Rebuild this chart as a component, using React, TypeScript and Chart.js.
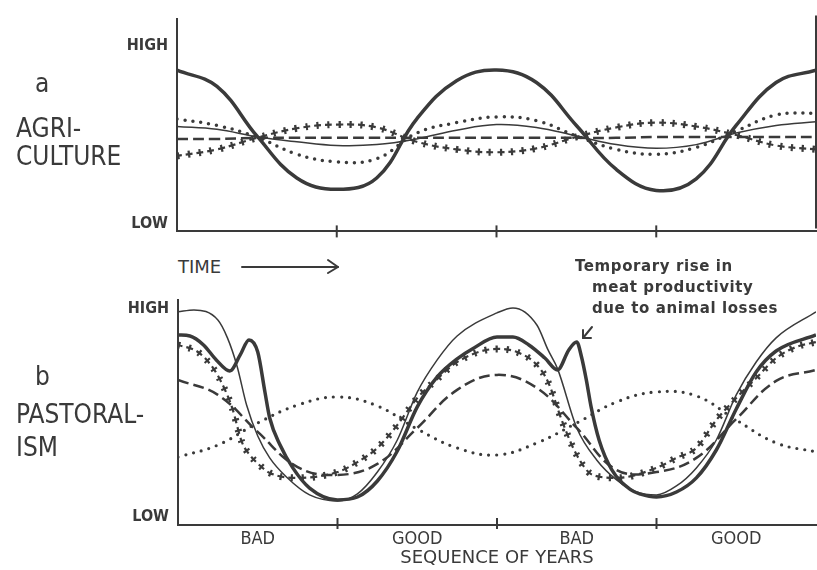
import React, { useEffect, useRef } from 'react';
import { Chart, registerables } from 'chart.js';

Chart.register(...registerables);

// ---------- data ----------
const quarterSteps = [0, 0.25, 0.5, 0.75, 1, 1.25, 1.5, 1.75, 2, 2.25, 2.5, 2.75, 3, 3.25, 3.5, 3.75, 4];

// panel a: agriculture
const agriThick = [8.66, 7.74, 4.95, 2.58, 1.94, 2.58, 5.9, 8.06, 8.66, 7.96, 5.54, 3.06, 1.88, 2.53, 5.54, 7.96, 8.66];
const agriThin = [5.48, 5.32, 4.9, 4.62, 4.41, 4.46, 4.78, 5.27, 5.59, 5.43, 4.95, 4.46, 4.25, 4.46, 5.11, 5.54, 5.75];
const agriDotted = [5.91, 5.54, 4.89, 3.92, 3.49, 3.66, 5.11, 5.7, 6.02, 5.81, 4.95, 4.19, 3.92, 4.3, 5.22, 6.13, 6.24];
const agriDashed = [4.78, 4.78, 4.84, 4.84, 4.84, 4.84, 4.84, 4.84, 4.84, 4.84, 4.84, 4.84, 4.89, 4.89, 4.89, 4.89, 4.89];
const agriPlus = [3.82, 4.19, 4.84, 5.38, 5.59, 5.43, 4.62, 4.19, 4.03, 4.25, 4.89, 5.43, 5.7, 5.48, 5.0, 4.41, 4.19];

// panel b: pastoralism
const pastThinX = [0, 0.1, 0.25, 0.31, 0.37, 0.43, 0.5, 0.575, 0.68, 0.825, 1.0, 1.125, 1.25, 1.375, 1.5, 1.625, 1.75, 2.0, 2.1, 2.25, 2.32, 2.38, 2.5, 2.625, 2.75, 2.875, 3.0, 3.125, 3.25, 3.375, 3.5, 3.625, 3.75, 4.0];
const pastThinY = [9.86, 9.95, 9.47, 8.61, 7.26, 5.38, 3.89, 2.84, 1.92, 1.06, 0.77, 1.11, 2.16, 3.7, 6.0, 7.55, 8.7, 9.81, 10.05, 9.23, 8.03, 7.12, 4.28, 2.74, 1.78, 1.2, 1.06, 1.49, 2.36, 3.7, 5.87, 7.45, 8.61, 9.86];

const pastThickX = [0, 0.075, 0.16, 0.24, 0.325, 0.39, 0.445, 0.5, 0.545, 0.575, 0.64, 0.72, 0.825, 1.0, 1.125, 1.25, 1.375, 1.5, 1.625, 1.75, 1.85, 2.0, 2.1, 2.2, 2.3, 2.38, 2.45, 2.5, 2.53, 2.56, 2.59, 2.64, 2.72, 2.84, 2.9, 3.0, 3.125, 3.25, 3.375, 3.5, 3.625, 3.75, 4.0];
const pastThickY = [8.75, 8.7, 8.27, 7.55, 7.02, 7.79, 8.51, 7.93, 6.01, 4.76, 3.46, 2.36, 1.39, 0.82, 0.96, 1.73, 3.17, 5.29, 6.73, 7.6, 8.1, 8.65, 8.65, 8.27, 7.64, 7.07, 8.03, 8.41, 7.69, 6.59, 5.29, 3.7, 2.26, 1.3, 1.1, 0.96, 1.2, 1.88, 3.22, 5.19, 6.97, 7.98, 8.75];

const pastPlusX = [0, 0.125, 0.22, 0.28, 0.34, 0.4, 0.45, 0.51, 0.575, 0.75, 1.0, 1.125, 1.25, 1.375, 1.5, 1.625, 1.75, 2.0, 2.125, 2.25, 2.32, 2.41, 2.5, 2.6, 2.75, 3.0, 3.125, 3.25, 3.375, 3.5, 3.625, 3.75, 3.875, 4.0];
const pastPlusY = [8.27, 7.93, 7.16, 6.35, 5.24, 3.61, 2.98, 2.5, 2.12, 1.88, 2.16, 2.64, 3.32, 4.42, 5.72, 6.63, 7.45, 8.08, 7.93, 7.31, 6.49, 4.57, 2.98, 2.02, 1.88, 2.36, 2.84, 3.32, 4.66, 5.72, 6.68, 7.64, 8.17, 8.41];

const pastDashed = [6.59, 5.87, 4.09, 2.4, 2.02, 2.55, 4.28, 6.11, 6.83, 6.2, 4.28, 2.26, 2.16, 2.84, 4.71, 6.54, 7.07];
const pastDotted = [2.88, 3.46, 4.52, 5.38, 5.77, 5.34, 4.23, 3.32, 2.98, 3.56, 4.52, 5.53, 6.01, 5.82, 4.66, 3.56, 3.13];

const yearLabels = ['BAD', 'GOOD', 'BAD', 'GOOD'];
const yearLabelPositions = [0.5, 1.5, 2.5, 3.5];
const periodTicks = [1, 2, 3];
const levelTicks = [0, 10];
const levelNames = ['LOW', 'HIGH'];

// ---------- styling ----------
const INK = '#3a3a3a';
const COND = "'DejaVu Sans Condensed', 'DejaVu Sans', sans-serif";
const SANS = "'DejaVu Sans', sans-serif";

const pts = (xs: number[], ys: number[]) => xs.map((x, i) => ({ x, y: ys[i] }));

const smooth = { cubicInterpolationMode: 'default', tension: 0.4 };
const mono = { cubicInterpolationMode: 'monotone', tension: 0.4 };
const base = { pointRadius: 0, borderColor: INK, fill: false };
const solid = (data: any, w: number, curve: any) => ({ ...base, ...curve, data, borderWidth: w });
const dashed = (data: any, curve: any) => ({ ...base, ...curve, data, borderWidth: 2.5, borderDash: [11, 5] });
const dotted = (data: any, w: number, curve: any) => ({ ...base, ...curve, data, borderWidth: w, borderDash: [0, 8], borderCapStyle: 'round' });
const plusPair = (data: any, curve: any) => [
  { ...base, ...curve, data, borderWidth: 7, borderDash: [2.2, 8.8] },
  { ...base, ...curve, data, borderWidth: 2.2, borderDash: [7, 4], borderDashOffset: 2.4 },
];

const frameMarks = {
  id: 'frameMarks',
  afterDraw(chart: any, _args: any, opts: any) {
    const { ctx, chartArea, scales } = chart;
    ctx.save();
    ctx.strokeStyle = INK;
    ctx.lineWidth = 2;
    periodTicks.forEach((v) => {
      const px = scales.x.getPixelForValue(v);
      ctx.beginPath();
      ctx.moveTo(px, chartArea.bottom - opts.up);
      ctx.lineTo(px, chartArea.bottom + opts.down);
      ctx.stroke();
    });
    if (opts.rightFrame) {
      ctx.beginPath();
      ctx.moveTo(chartArea.right, chartArea.top - 3);
      ctx.lineTo(chartArea.right, chartArea.bottom - 3);
      ctx.stroke();
    }
    ctx.restore();
  },
};

function makeOptions(cfg: any) {
  return {
    responsive: false,
    animation: false,
    events: [],
    layout: { padding: { top: cfg.padTop, right: 1, left: 0, bottom: 0 } },
    plugins: {
      legend: { display: false },
      tooltip: { enabled: false },
      frameMarks: { up: cfg.tickUp, down: cfg.tickDown, rightFrame: cfg.rightFrame },
    },
    scales: {
      x: {
        type: 'linear',
        min: 0,
        max: 4,
        grid: { display: false, drawTicks: false },
        border: { display: true, color: INK, width: 2 },
        afterBuildTicks: (s: any) => {
          s.ticks = (cfg.xLabels ? yearLabelPositions : periodTicks).map((v) => ({ value: v }));
        },
        afterFit: (s: any) => {
          s.height = cfg.xHeight;
        },
        ticks: {
          display: !!cfg.xLabels,
          padding: cfg.xPad,
          color: INK,
          maxRotation: 0,
          autoSkip: false,
          font: { family: COND, size: 18 },
          callback: (v: number) => yearLabels[Math.floor(v)] ?? '',
        },
        title: cfg.xLabels
          ? {
              display: true,
              text: 'SEQUENCE OF YEARS',
              color: INK,
              font: { family: SANS, size: 18 },
              padding: { top: 0, bottom: cfg.titlePad },
            }
          : { display: false },
      },
      y: {
        type: 'linear',
        min: cfg.yMin,
        max: cfg.yMax,
        grid: { display: false, drawTicks: false },
        border: { display: true, color: INK, width: 2 },
        afterBuildTicks: (s: any) => {
          s.ticks = levelTicks.map((v) => ({ value: v }));
        },
        afterFit: (s: any) => {
          s.width = cfg.yWidth;
        },
        ticks: {
          padding: 9,
          color: INK,
          font: { family: COND, size: 16, weight: 'bold' },
          callback: (v: number) => levelNames[levelTicks.indexOf(v)] ?? '',
        },
      },
    },
  };
}

function Panel({ datasets, cfg, top, height }: any) {
  const ref = useRef<HTMLCanvasElement>(null);
  useEffect(() => {
    const chart = new Chart(ref.current as HTMLCanvasElement, {
      type: 'line',
      data: { datasets },
      options: makeOptions(cfg) as any,
      plugins: [frameMarks],
    } as any);
    return () => chart.destroy();
  }, []);
  return (
    <canvas
      ref={ref}
      width={817}
      height={height}
      style={{ position: 'absolute', left: 0, top, width: 817, height }}
    />
  );
}

const bigLabel: React.CSSProperties = {
  position: 'absolute',
  fontFamily: COND,
  fontSize: 26,
  lineHeight: '26px',
  color: INK,
  whiteSpace: 'nowrap',
};

const noteStyle: React.CSSProperties = {
  position: 'absolute',
  fontFamily: SANS,
  fontWeight: 'bold',
  fontSize: 15,
  lineHeight: '21px',
  letterSpacing: '0.6px',
  color: INK,
  whiteSpace: 'nowrap',
};

export default function App() {
  const q = (ys: number[]) => pts(quarterSteps, ys);
  const agriSets = [
    solid(q(agriThick), 3.5, smooth),
    solid(q(agriThin), 1.5, smooth),
    dotted(q(agriDotted), 3.5, smooth),
    dashed(q(agriDashed), smooth),
    ...plusPair(q(agriPlus), smooth),
  ];
  const pastSets = [
    solid(pts(pastThickX, pastThickY), 3.5, mono),
    solid(pts(pastThinX, pastThinY), 1.5, mono),
    dotted(q(pastDotted), 3.2, smooth),
    dashed(q(pastDashed), smooth),
    ...plusPair(pts(pastPlusX, pastPlusY), mono),
  ];
  return (
    <div style={{ position: 'absolute', left: 0, top: 0, width: 817, height: 570, background: '#fff', overflow: 'hidden' }}>
      <Panel
        datasets={agriSets}
        top={0}
        height={250}
        cfg={{ padTop: 13, xHeight: 14, yWidth: 177, yMin: -0.43, yMax: 11.56, tickUp: 6, tickDown: 6, rightFrame: true, xLabels: false, xPad: 0, titlePad: 0 }}
      />
      <Panel
        datasets={pastSets}
        top={280}
        height={290}
        cfg={{ padTop: 20, xHeight: 45, yWidth: 178, yMin: -0.385, yMax: 10.43, tickUp: 7, tickDown: 4, rightFrame: false, xLabels: true, xPad: 4, titlePad: 1 }}
      />

      <div style={{ ...bigLabel, left: 35, top: 70 }}>a</div>
      <div style={{ ...bigLabel, left: 16, top: 115 }}>AGRI-</div>
      <div style={{ ...bigLabel, left: 16, top: 143 }}>CULTURE</div>

      <div style={{ ...bigLabel, left: 35, top: 363 }}>b</div>
      <div style={{ ...bigLabel, left: 16, top: 401 }}>PASTORAL-</div>
      <div style={{ ...bigLabel, left: 16, top: 434 }}>ISM</div>

      <div style={{ position: 'absolute', left: 178, top: 258, fontFamily: SANS, fontSize: 18, lineHeight: '18px', color: INK }}>TIME</div>
      <svg style={{ position: 'absolute', left: 0, top: 0 }} width={817} height={570}>
        <g stroke={INK} strokeWidth={2} fill="none" strokeLinecap="round" strokeLinejoin="round">
          <line x1={242} y1={267} x2={338} y2={267} />
          <polyline points="328,260 338,267 328,273" />
          <line x1={592} y1={327} x2={583} y2={338} />
          <polyline points="583,330 583,338 591,338" />
        </g>
      </svg>

      <div style={{ ...noteStyle, left: 575, top: 256 }}>Temporary rise in</div>
      <div style={{ ...noteStyle, left: 592, top: 277 }}>meat productivity</div>
      <div style={{ ...noteStyle, left: 592, top: 298 }}>due to animal losses</div>
    </div>
  );
}
